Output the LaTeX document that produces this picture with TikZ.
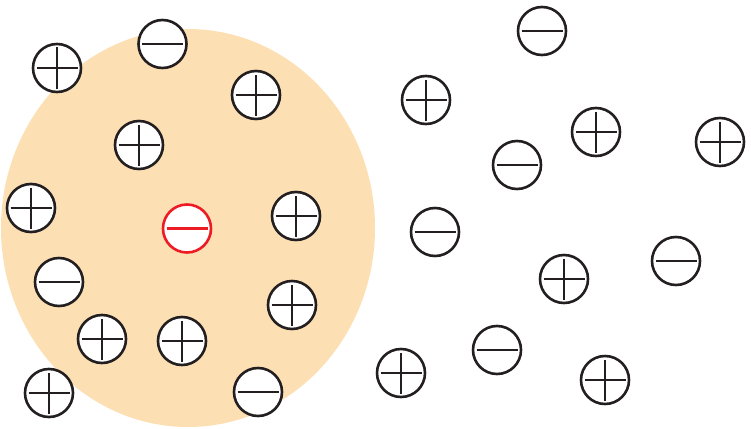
\documentclass[tikz,border=0pt]{standalone}
\definecolor{blob}{HTML}{FDDFB4}
\definecolor{ink}{HTML}{231F20}
\definecolor{redink}{HTML}{ED1C24}
\tikzset{
  chg/.style={circle, draw=ink, fill=white, line width=2.6pt, minimum size=48pt, inner sep=0pt},
  bar/.style={line width=2.8pt, draw=ink}
}
\begin{document}
\begin{tikzpicture}[x=1pt,y=-1pt]
\useasboundingbox (0,0) rectangle (751,428);
\begin{scope}
\clip (0,0) rectangle (751,428);
\fill[blob] (188,228) ellipse [x radius=187, y radius=199];
\end{scope}
% left group
\node[chg] (p1) at (57,68) {};
\node[chg] (m1) at (162.5,44) {};
\node[chg] (p2) at (256,95) {};
\node[chg] (p3) at (139,145) {};
\node[chg] (p4) at (31,208) {};
\node[chg, draw=redink] (r1) at (187,228.5) {};
\node[chg] (p5) at (296,216) {};
\node[chg] (m2) at (59,282) {};
\node[chg] (p6) at (292,305) {};
\node[chg] (p7) at (102,339) {};
\node[chg] (p8) at (182,341) {};
\node[chg] (p9) at (49,393) {};
\node[chg] (m3) at (258,392) {};
% right group
\node[chg] (m4) at (542,31) {};
\node[chg] (p10) at (426,100) {};
\node[chg] (p11) at (596,132) {};
\node[chg] (m5) at (517,165) {};
\node[chg] (p12) at (720,142) {};
\node[chg] (m6) at (435,232) {};
\node[chg] (m7) at (676,261) {};
\node[chg] (p13) at (564,279) {};
\node[chg] (m8) at (497,350) {};
\node[chg] (p14) at (401,373) {};
\node[chg] (p15) at (605,380) {};
% horizontal bars (all charges)
\foreach \n in {p1,p2,p3,p4,p5,p6,p7,p8,p9,p10,p11,p12,p13,p14,p15,m1,m2,m3,m4,m5,m6,m7,m8}
  \draw[bar] ([xshift=-20.5pt]\n.center) -- ([xshift=20.5pt]\n.center);
% vertical bars (plus charges)
\foreach \n in {p1,p2,p3,p4,p5,p6,p7,p8,p9,p10,p11,p12,p13,p14,p15}
  \draw[bar] ([yshift=-20.5pt]\n.center) -- ([yshift=20.5pt]\n.center);
\draw[bar, draw=redink] ([xshift=-20.5pt]r1.center) -- ([xshift=20.5pt]r1.center);
\end{tikzpicture}
\end{document}
